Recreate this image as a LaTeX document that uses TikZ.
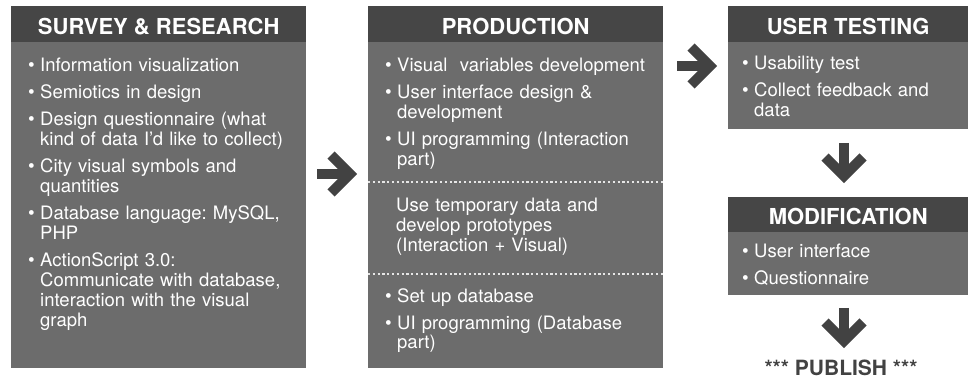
\documentclass[tikz,border=0pt]{standalone}
\usepackage{fontspec}
\setmainfont{TeX Gyre Heros}
\usepackage{tikz}
\usetikzlibrary{positioning}

\definecolor{headgray}{RGB}{70,70,70}
\definecolor{bodygray}{RGB}{108,108,108}
\definecolor{arrowgray}{RGB}{66,66,66}
\definecolor{dotgray}{RGB}{230,230,230}

\newcommand{\bpt}{\makebox[12pt][l]{\fontsize{19}{19}\selectfont\textbullet}}
\newcommand{\ind}{\hspace*{12pt}}

\begin{document}
\begin{tikzpicture}[x=1pt,y=-1pt,
	head/.style={fill=headgray, text=white, font=\bfseries\fontsize{22}{22}\selectfont, inner sep=0, text height=19, text depth=0, anchor=north west},
	panel/.style={fill=bodygray, inner sep=0},
	items/.style={text=white, font=\fontsize{18.5}{20}\selectfont\frenchspacing, align=left, text width=262, inner sep=0, anchor=base west},
	shaft/.style={draw=arrowgray, line width=10, line cap=butt},
	chev/.style={draw=arrowgray, line width=10, line cap=butt, line join=miter},
	dotline/.style={draw=dotgray, line width=2.2, dash pattern=on 2.2 off 2.6}]
	\useasboundingbox (0,0) rectangle (969,379);

	% Colonna 1: ricerca
	\node[head, minimum width=295, minimum height=37] (survey-h) at (11,6) {SURVEY \& RESEARCH};
	\node[panel, minimum width=295, minimum height=325.5, below=1.5 of survey-h] (survey-b) {};
	\node[items] (survey-t) at (28,72) {\bpt Information visualization\\[7pt]
		\bpt Semiotics in design\\[7pt]
		\bpt Design questionnaire (what\\
		\ind kind of data I’d like to collect)\\[7pt]
		\bpt City visual symbols and\\
		\ind quantities\\[7pt]
		\bpt Database language: MySQL,\\
		\ind PHP\\[7pt]
		\bpt ActionScript 3.0:\\
		\ind Communicate with database,\\
		\ind interaction with the visual\\
		\ind graph};

	% Colonna 2: produzione, tre blocchi separati da righe puntinate
	\node[head, minimum width=295, minimum height=37] (prod-h) at (368,6) {PRODUCTION};
	\node[panel, minimum width=295, minimum height=325.5, below=1.5 of prod-h] (prod-b) {};
	\node[items] (prod-t1) at (385,72) {\bpt Visual\ \ variables development\\[7pt]
		\bpt User interface design \&\\
		\ind development\\[7pt]
		\bpt UI programming (Interaction\\
		\ind part)};
	\draw[dotline] (368,182) -- (663,182);
	\node[items] (prod-t2) at (396,212) {Use temporary data and\\
		develop prototypes\\
		(Interaction + Visual)};
	\draw[dotline] (368,274) -- (663,274);
	\node[items] (prod-t3) at (385,302) {\bpt Set up database\\[7pt]
		\bpt UI programming (Database\\
		\ind part)};

	% Colonna 3: test e modifiche
	\node[head, minimum width=240, minimum height=37] (test-h) at (728,6) {USER TESTING};
	\node[panel, minimum width=240, minimum height=86.5, below=1.5 of test-h] (test-b) {};
	\node[items, text width=220] (test-t) at (742,70) {\bpt Usability test\\[7pt]
		\bpt Collect feedback and\\
		\ind data};

	\node[head, minimum width=240, minimum height=36] (mod-h) at (728,197) {MODIFICATION};
	\node[panel, minimum width=240, minimum height=62.5, below=1.5 of mod-h] (mod-b) {};
	\node[items, text width=220] (mod-t) at (742,258) {\bpt User interface\\[7pt]
		\bpt Questionnaire};

	\node[font=\bfseries\fontsize{21}{21}\selectfont, text=arrowgray, inner sep=0, anchor=base] (publish) at (841,375) {*** PUBLISH ***};

	% Frecce a chevron (vertice della punta)
	\coordinate (a1) at (350,174);
	\coordinate (a2) at (710,66);
	\coordinate (d1) at (844,176);
	\coordinate (d2) at (844,341);
	\draw[shaft] ([shift={(-33,0)}]a1) -- (a1);
	\draw[chev] ([shift={(-19,-19)}]a1) -- (a1) -- ([shift={(-19,19)}]a1);
	\draw[shaft] ([shift={(-33,0)}]a2) -- (a2);
	\draw[chev] ([shift={(-19,-19)}]a2) -- (a2) -- ([shift={(-19,19)}]a2);
	\draw[shaft] ([shift={(0,-33)}]d1) -- (d1);
	\draw[chev] ([shift={(-19,-19)}]d1) -- (d1) -- ([shift={(19,-19)}]d1);
	\draw[shaft] ([shift={(0,-33)}]d2) -- (d2);
	\draw[chev] ([shift={(-19,-19)}]d2) -- (d2) -- ([shift={(19,-19)}]d2);
\end{tikzpicture}
\end{document}
